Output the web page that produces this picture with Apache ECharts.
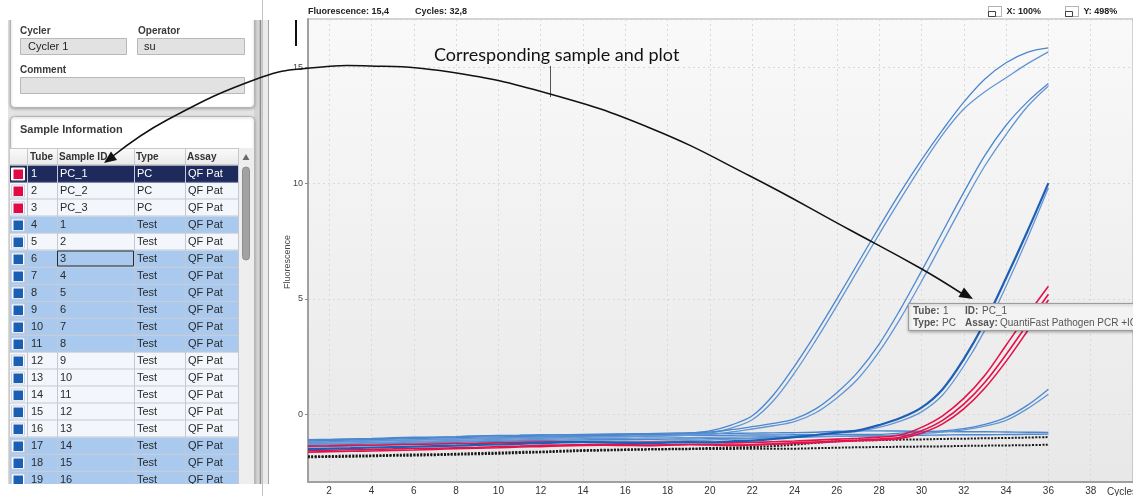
<!DOCTYPE html>
<html><head><meta charset="utf-8">
<script src="https://cdn.jsdelivr.net/npm/echarts@6/dist/echarts.min.js"></script>
<style>html,body{margin:0;padding:0;background:#fff;}#c{width:1133px;height:496px;}</style>
</head><body><div id="c"></div><script>
// ---------- DATA ----------
const cycles = [1,2,3,4,5,6,7,8,9,10,11,12,13,14,15,16,17,18,19,20,21,22,23,24,25,26,27,28,29,30,31,32,33,34,35,36];

const blueA1 = [-1.13,-1.12,-1.10,-1.08,-1.06,-1.03,-1.01,-0.99,-0.97,-0.96,-0.95,-0.93,-0.92,-0.91,-0.90,-0.88,-0.86,-0.85,-0.80,-0.70,-0.45,-0.05,0.85,2.10,3.50,5.00,6.55,8.10,9.60,11.00,12.30,13.50,14.50,15.20,15.65,15.84];
const blueA2 = [-1.20,-1.19,-1.17,-1.14,-1.12,-1.10,-1.08,-1.06,-1.04,-1.02,-1.00,-0.99,-0.98,-0.97,-0.96,-0.95,-0.93,-0.92,-0.88,-0.80,-0.58,-0.22,0.60,1.80,3.20,4.70,6.25,7.80,9.30,10.75,12.10,13.20,13.95,14.55,15.15,15.67];
const blueB1 = [-1.10,-1.08,-1.06,-1.05,-1.03,-1.00,-0.98,-0.96,-0.93,-0.91,-0.90,-0.88,-0.87,-0.86,-0.84,-0.83,-0.82,-0.80,-0.78,-0.75,-0.65,-0.52,-0.38,-0.18,0.25,0.95,1.85,3.05,4.55,6.20,7.90,9.60,11.20,12.50,13.50,14.30];
const blueB2 = [-1.25,-1.24,-1.22,-1.20,-1.18,-1.16,-1.13,-1.11,-1.09,-1.07,-1.05,-1.02,-1.00,-0.98,-0.96,-0.95,-0.93,-0.91,-0.88,-0.85,-0.75,-0.62,-0.48,-0.30,0.08,0.72,1.55,2.72,4.15,5.75,7.45,9.15,10.75,12.10,13.30,14.20];
const blueC1 = [-1.49,-1.47,-1.45,-1.42,-1.40,-1.38,-1.36,-1.34,-1.31,-1.29,-1.26,-1.23,-1.20,-1.19,-1.20,-1.22,-1.23,-1.21,-1.19,-1.20,-1.15,-1.12,-1.05,-0.97,-0.88,-0.78,-0.68,-0.45,-0.15,0.30,1.10,2.40,4.00,5.90,7.90,10.00];
const blueC2 = [-1.40,-1.38,-1.36,-1.34,-1.31,-1.29,-1.27,-1.25,-1.23,-1.21,-1.19,-1.17,-1.15,-1.14,-1.14,-1.15,-1.16,-1.14,-1.12,-1.10,-1.06,-1.03,-0.98,-0.92,-0.86,-0.80,-0.72,-0.55,-0.28,0.12,0.85,2.10,3.65,5.55,7.60,9.80];
const blueD1 = [-1.18,-1.17,-1.15,-1.13,-1.11,-1.09,-1.07,-1.05,-1.03,-1.01,-0.99,-0.97,-0.95,-0.94,-0.93,-0.93,-0.92,-0.91,-0.90,-0.90,-0.89,-0.88,-0.88,-0.87,-0.86,-0.86,-0.85,-0.85,-0.80,-0.75,-0.70,-0.60,-0.42,-0.12,0.40,1.10];
const blueD2 = [-1.28,-1.27,-1.25,-1.23,-1.21,-1.19,-1.17,-1.15,-1.13,-1.11,-1.09,-1.07,-1.05,-1.04,-1.03,-1.02,-1.01,-1.00,-0.99,-0.98,-0.97,-0.96,-0.95,-0.95,-0.94,-0.94,-0.93,-0.92,-0.88,-0.82,-0.75,-0.66,-0.50,-0.25,0.25,0.88];
const blueN1 = [-1.08,-1.07,-1.05,-1.03,-1.00,-0.98,-0.97,-0.95,-0.92,-0.90,-0.89,-0.88,-0.87,-0.86,-0.86,-0.85,-0.85,-0.84,-0.83,-0.82,-0.81,-0.80,-0.79,-0.78,-0.76,-0.72,-0.70,-0.70,-0.71,-0.72,-0.73,-0.74,-0.74,-0.75,-0.76,-0.77];
const blueN2 = [-1.32,-1.31,-1.29,-1.27,-1.25,-1.23,-1.21,-1.19,-1.17,-1.15,-1.13,-1.11,-1.10,-1.09,-1.08,-1.08,-1.07,-1.06,-1.05,-1.04,-1.03,-1.02,-1.00,-0.98,-0.96,-0.94,-0.92,-0.91,-0.90,-0.89,-0.88,-0.87,-0.87,-0.86,-0.85,-0.84];

const redPC1 = [-1.36,-1.35,-1.33,-1.32,-1.30,-1.28,-1.27,-1.25,-1.24,-1.22,-1.20,-1.18,-1.17,-1.18,-1.20,-1.21,-1.20,-1.19,-1.18,-1.20,-1.22,-1.20,-1.17,-1.14,-1.10,-1.06,-1.02,-0.97,-0.88,-0.55,-0.05,0.70,1.70,3.00,4.30,5.55];
const redPC2 = [-1.55,-1.54,-1.52,-1.50,-1.48,-1.46,-1.45,-1.43,-1.41,-1.38,-1.36,-1.33,-1.31,-1.30,-1.29,-1.30,-1.31,-1.30,-1.28,-1.29,-1.31,-1.30,-1.26,-1.22,-1.18,-1.14,-1.10,-1.05,-0.98,-0.70,-0.25,0.45,1.40,2.60,3.90,5.20];
const redPC3 = [-1.62,-1.60,-1.58,-1.57,-1.55,-1.53,-1.50,-1.47,-1.45,-1.43,-1.40,-1.38,-1.35,-1.33,-1.32,-1.33,-1.34,-1.32,-1.30,-1.31,-1.33,-1.31,-1.28,-1.25,-1.21,-1.17,-1.13,-1.09,-1.03,-0.80,-0.40,0.25,1.15,2.30,3.60,4.95];

const blackNTC1 = [-1.80,-1.79,-1.77,-1.76,-1.74,-1.72,-1.71,-1.69,-1.66,-1.64,-1.61,-1.60,-1.56,-1.53,-1.52,-1.50,-1.49,-1.48,-1.47,-1.44,-1.42,-1.40,-1.36,-1.30,-1.22,-1.15,-1.12,-1.10,-1.08,-1.07,-1.05,-1.04,-1.02,-1.01,-0.99,-0.97];
const blackNTC2 = [-1.84,-1.83,-1.82,-1.80,-1.78,-1.77,-1.75,-1.73,-1.71,-1.69,-1.66,-1.63,-1.60,-1.57,-1.55,-1.53,-1.51,-1.50,-1.49,-1.48,-1.48,-1.47,-1.47,-1.47,-1.45,-1.43,-1.41,-1.40,-1.39,-1.38,-1.37,-1.35,-1.34,-1.33,-1.32,-1.30];

const tubes = ['1','2','3','4','5','6','7','8','9','10','11','12','13','14','15','16','17','18','19'];
const sampleIds = ['PC_1','PC_2','PC_3','1','2','3','4','5','6','7','8','9','10','11','12','13','14','15','16'];
const sampleTypes = ['PC','PC','PC','Test','Test','Test','Test','Test','Test','Test','Test','Test','Test','Test','Test','Test','Test','Test','Test'];
const assays = ['QF Pat','QF Pat','QF Pat','QF Pat','QF Pat','QF Pat','QF Pat','QF Pat','QF Pat','QF Pat','QF Pat','QF Pat','QF Pat','QF Pat','QF Pat','QF Pat','QF Pat','QF Pat','QF Pat'];
const rowStates = ['sel','plain','plain','mark','plain','mark','mark','mark','mark','mark','mark','plain','plain','plain','plain','plain','mark','mark','mark'];
const headers = ['Tube','Sample ID','Type','Assay'];

// ---------- STYLES ----------
const UI = '"Liberation Sans", Arial, sans-serif';
const BLUE = '#4a87cf', BLUE_DARK = '#1c5fb5', BLUE_LIGHT = '#6496d4', RED = '#e3124b', BLACK = '#1a1a1a';
const curveDefs = [
  {d: blackNTC1, c: BLACK, w: 2, t: [2, 1.4]},
  {d: blackNTC2, c: BLACK, w: 2, t: [2, 1.4]},
  {d: blueN1, c: BLUE, w: 1.4}, {d: blueN2, c: BLUE, w: 1.4},
  {d: blueD1, c: BLUE, w: 1.3}, {d: blueD2, c: BLUE_LIGHT, w: 1.3},
  {d: blueA1, c: BLUE, w: 1.3}, {d: blueA2, c: BLUE_LIGHT, w: 1.3},
  {d: blueB1, c: BLUE, w: 1.3}, {d: blueB2, c: BLUE_LIGHT, w: 1.3},
  {d: blueC2, c: BLUE_LIGHT, w: 1.3},
  {d: redPC1, c: RED, w: 1.6}, {d: redPC2, c: RED, w: 1.6}, {d: redPC3, c: RED, w: 1.6},
  {d: blueC1, c: BLUE_DARK, w: 2.2}
];

const g = [];
function rect(x, y, w, h, style, z, r) { g.push({type: 'rect', z: z || 5, shape: {x, y, width: w, height: h, r: r || 0}, style}); }
function txt(x, y, t, font, fill, z, align) { g.push({type: 'text', z: z || 10, x, y, style: {text: t, font, fill, textAlign: align || 'left', textVerticalAlign: 'middle'}}); }
function ln(x1, y1, x2, y2, stroke, w, z) { g.push({type: 'line', z: z || 6, shape: {x1, y1, x2, y2}, style: {stroke, lineWidth: w || 1}}); }

// left app background + separator
rect(8, 20, 254, 464, {fill: '#e4e4e4'}, 1);
rect(254, 20, 6, 464, {fill: '#d4d4d4'}, 2);
ln(260.5, 20, 260.5, 484, '#8c8c8c', 1.5, 3);
rect(262, 20, 6, 464, {fill: '#ebebeb'}, 2);
ln(268.5, 20, 268.5, 484, '#a4a4a4', 1, 3);
ln(262.5, 0, 262.5, 496, '#c4c4c4', 1, 30);

// panel 1
rect(10.5, 0, 244, 107.5, {fill: '#fff', stroke: '#b4b4b4', lineWidth: 1, shadowBlur: 3, shadowColor: 'rgba(0,0,0,0.25)', shadowOffsetY: 1}, 3, 4);
txt(20, 31.5, 'Cycler', 'bold 10px ' + UI, '#3a3a3a');
txt(138, 31.5, 'Operator', 'bold 10px ' + UI, '#3a3a3a');
rect(20.5, 38.5, 106, 16, {fill: '#e2e2e2', stroke: '#b8b8b8'}, 5);
txt(28, 46.5, 'Cycler 1', '11px ' + UI, '#222');
rect(137.5, 38.5, 107, 16, {fill: '#e2e2e2', stroke: '#b8b8b8'}, 5);
txt(144, 46.5, 'su', '11px ' + UI, '#222');
txt(20, 70.5, 'Comment', 'bold 10px ' + UI, '#3a3a3a');
rect(20.5, 77.5, 224, 16, {fill: '#e2e2e2', stroke: '#b8b8b8'}, 5);

// panel 2
rect(10.5, 116.5, 244, 390, {fill: '#fff', stroke: '#b4b4b4', lineWidth: 1, shadowBlur: 3, shadowColor: 'rgba(0,0,0,0.25)', shadowOffsetY: 1}, 3, 4);
txt(20, 130, 'Sample Information', 'bold 11px ' + UI, '#3a3a3a');

// table header
const colX = [10, 27, 57, 134, 185, 238];
const textX = [31, 60, 137, 188];
rect(10, 148, 228, 17, {fill: new echarts.graphic.LinearGradient(0, 0, 0, 1, [{offset: 0, color: '#fbfbfb'}, {offset: 1, color: '#e9e9e9'}])}, 4);
ln(10, 148.5, 238, 148.5, '#c8c8c8', 1, 6);
ln(10, 165, 238, 165, '#b0b0b0', 1, 6);
headers.forEach((h, i) => txt(textX[i] - 1, 157, h, 'bold 10px ' + UI, '#333'));

// rows
const ROW_H = 17, ROW0 = 165.5;
const rowFill = {sel: '#1d2a5b', plain: '#f3f6fb', mark: '#a9c9ef'};
tubes.forEach((tb, i) => {
  const top = ROW0 + i * ROW_H;
  const st = rowStates[i];
  rect(10, top, 228, ROW_H, {fill: rowFill[st]}, 4);
  ln(10, top + ROW_H - 0.5, 238, top + ROW_H - 0.5, st === 'sel' ? '#3c4a78' : '#c3c8d2', 1, 6);
  rect(11.5, top + 2.5, 13, 12, {fill: '#fff', stroke: st === 'sel' ? '#fff' : '#c9d3e2', lineWidth: 1}, 7);
  rect(13.5, top + 4, 9.5, 9.5, {fill: i < 3 ? '#e20a45' : '#1a5fb4'}, 8);
  const fc = st === 'sel' ? '#ffffff' : '#2a2a2a';
  [tb, sampleIds[i], sampleTypes[i], assays[i]].forEach((v, k) => txt(textX[k], top + 8.5, v, '11px ' + UI, fc, 10));
});
colX.slice(1).forEach(x => ln(x + 0.5, 148, x + 0.5, 484, '#c3c8d2', 1, 6));
// focused cell
g.push({type: 'rect', z: 9, shape: {x: 57.5, y: ROW0 + 5 * ROW_H + 0.5, width: 76, height: 15}, style: {fill: 'none', stroke: '#2a2a2a', lineWidth: 1}});
// scrollbar
rect(238.5, 148, 15, 340, {fill: '#eeeeee'}, 5);
g.push({type: 'polygon', z: 8, shape: {points: [[242.5, 160], [249.5, 160], [246, 154]]}, style: {fill: '#6a6a6a'}});
rect(242.5, 167, 7, 93, {fill: '#a2a2a2', stroke: '#8e8e8e'}, 8, 3.5);

// white crop bands
rect(0, 0, 262, 20, {fill: '#fff'}, 20);
rect(0, 484, 262, 12, {fill: '#fff'}, 20);

// chart header texts
txt(308, 12, 'Fluorescence: 15,4', 'bold 9px ' + UI, '#222', 40);
txt(415, 12, 'Cycles: 32,8', 'bold 9px ' + UI, '#222', 40);
[[988.5, 'X: 100%'], [1065.5, 'Y: 498%']].forEach(([x, t]) => {
  g.push({type: 'rect', z: 40, shape: {x, y: 6.5, width: 13, height: 10}, style: {fill: 'none', stroke: '#666', lineWidth: 1, lineDash: [1, 1]}});
  g.push({type: 'rect', z: 40, shape: {x, y: 11.5, width: 7, height: 5}, style: {fill: 'none', stroke: '#444', lineWidth: 1}});
  txt(x + 18, 12, t, 'bold 9px ' + UI, '#222', 40);
});
txt(1107, 492, 'Cycles', '10px ' + UI, '#333', 40);
// y-axis title
g.push({type: 'text', z: 40, x: 288, y: 262, rotation: Math.PI / 2, style: {text: 'Fluorescence', font: '9px ' + UI, fill: '#444', textAlign: 'center', textVerticalAlign: 'middle'}});
// cursor bar
ln(296, 20, 296, 46, '#111', 2, 40);

// annotation
txt(434, 55, 'Corresponding sample and plot', '18px Lato, "Open Sans", sans-serif', '#111', 100);
ln(550.5, 66, 550.5, 97, '#555', 1, 100);
g.push({type: 'polyline', z: 100, shape: {points: [[113, 156], [167, 120], [262, 77], [310, 68], [370, 66], [450, 72], [550, 94], [650, 128], [750, 176], [850, 230], [920, 268], [961, 293]], smooth: 0.45}, style: {stroke: '#111', lineWidth: 1.5, fill: 'none'}});
g.push({type: 'polygon', z: 100, shape: {points: [[104, 163], [117, 160], [111, 151.5]]}, style: {fill: '#111'}});
g.push({type: 'polygon', z: 100, shape: {points: [[973, 299], [958.5, 297], [964, 287.5]]}, style: {fill: '#111'}});

// tooltip box
rect(908.5, 303.5, 240, 27, {fill: '#f3f3f3', stroke: '#9c9c9c', lineWidth: 1, shadowBlur: 3, shadowColor: 'rgba(0,0,0,0.3)', shadowOffsetY: 1}, 100);
txt(913, 311.5, 'Tube:', 'bold 10px ' + UI, '#555', 101);
txt(943, 311.5, '1', '10px ' + UI, '#555', 101);
txt(965, 311.5, 'ID:', 'bold 10px ' + UI, '#555', 101);
txt(982, 311.5, 'PC_1', '10px ' + UI, '#555', 101);
txt(913, 323, 'Type:', 'bold 10px ' + UI, '#555', 101);
txt(942, 323, 'PC', '10px ' + UI, '#555', 101);
txt(965, 323, 'Assay:', 'bold 10px ' + UI, '#555', 101);
txt(1000, 323, 'QuantiFast Pathogen PCR +IC', '10px ' + UI, '#555', 101);

const chart = echarts.init(document.getElementById('c'));
chart.setOption({
  animation: false,
  grid: {left: 308, top: 19, width: 829, height: 464, show: true, borderColor: '#a8a8a8', borderWidth: 1,
    backgroundColor: new echarts.graphic.LinearGradient(0, 0, 0, 1, [{offset: 0, color: '#f9f9f9'}, {offset: 1, color: '#e8e8e8'}])},
  xAxis: {type: 'value', min: 1, max: 40, splitNumber: 20,
    axisLine: {onZero: false, lineStyle: {color: '#a0a0a0', width: 2}}, axisTick: {show: false},
    axisLabel: {fontSize: 10, color: '#333', margin: 4, fontFamily: UI, showMinLabel: false, showMaxLabel: false,
      formatter: v => (v % 2 === 0 ? String(v) : '')},
    splitLine: {show: true, lineStyle: {color: '#d9d9d9', type: [2, 3], width: 1}}},
  yAxis: {type: 'value', min: -2.91, max: 17.09, splitNumber: 4,
    axisLine: {show: true, lineStyle: {color: '#a0a0a0', width: 2}},
    axisTick: {show: true, length: 3, lineStyle: {color: '#888'}},
    axisLabel: {fontSize: 9, color: '#444', margin: 5, fontFamily: UI, showMinLabel: false, showMaxLabel: false,
      formatter: v => (Math.abs(v % 5) < 1e-6 ? String(v) : '')},
    splitLine: {show: true, lineStyle: {color: '#d9d9d9', type: [2, 3], width: 1}}},
  series: curveDefs.map(k => ({
    type: 'line', silent: true, showSymbol: false, smooth: 0.35,
    data: cycles.map((c, i) => [c, k.d[i]]),
    lineStyle: {color: k.c, width: k.w, type: k.t || 'solid', cap: 'butt'}
  })),
  graphic: {elements: g}
});
</script></body></html>
